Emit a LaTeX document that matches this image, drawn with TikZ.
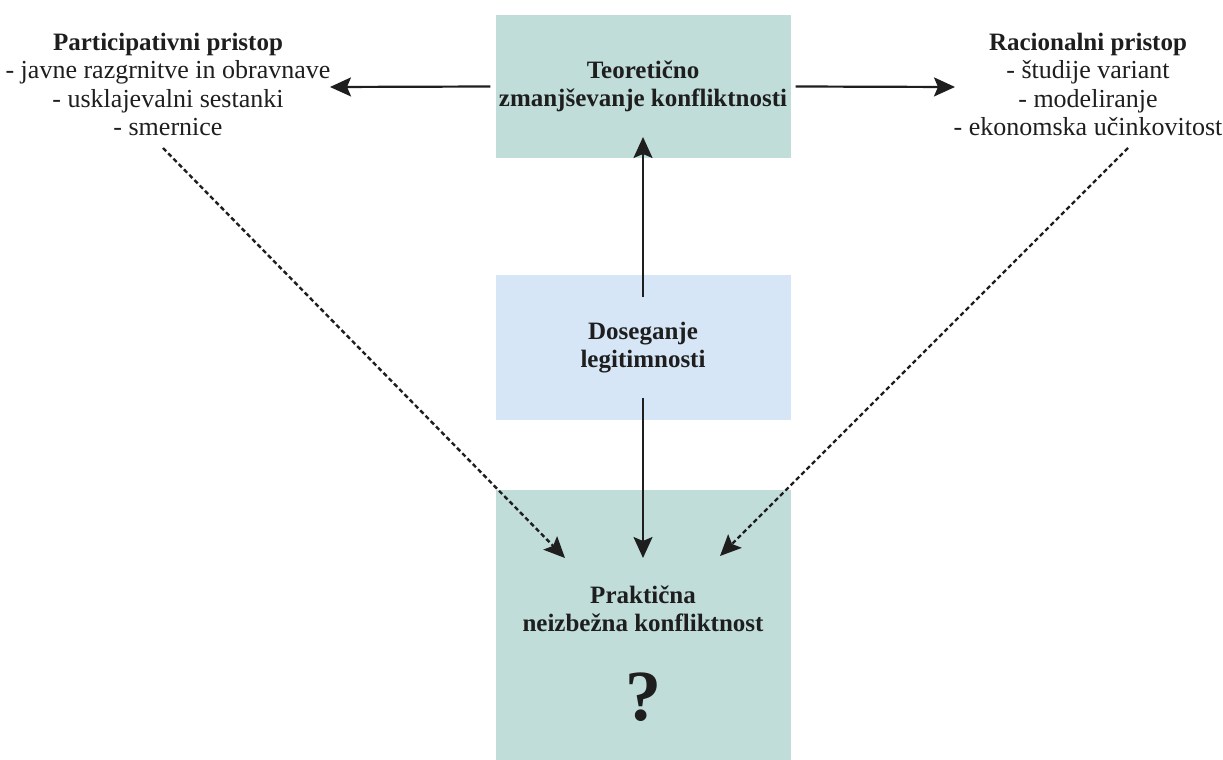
\documentclass[tikz,border=0pt]{standalone}
\usepackage{fontspec}
\setmainfont{Liberation Serif}
\usetikzlibrary{arrows.meta}
\definecolor{boxteal}{RGB}{192,221,218}
\definecolor{boxblue}{RGB}{214,230,246}
\definecolor{ink}{RGB}{30,30,30}
\newcommand\boldtxt{\fontsize{25}{28.5}\selectfont\bfseries}
\newcommand\plaintxt{\fontsize{26}{28.5}\selectfont}
\begin{document}
\begin{tikzpicture}[x=1pt,y=-1pt,
  box/.style={minimum width=295pt, inner sep=0pt, align=center, font=\boldtxt, text=ink},
  listtxt/.style={inner sep=0pt, align=center, font=\plaintxt, text=ink},
  arr/.style={draw=ink, line width=2.2pt, -{Stealth[length=21pt,width=19pt,inset=4pt]}},
  dotarr/.style={draw=ink, line width=2.4pt, dash pattern=on 4.5pt off 3pt,
                 -{Stealth[length=21pt,width=19pt,inset=4pt]}}]
\useasboundingbox (0,0) rectangle (1223,760);

% the three central boxes
\node[box, fill=boxteal, minimum height=143pt] (theory) at (643,86.5)
  {Teoretično\\zmanjševanje konfliktnosti};
\node[box, fill=boxblue, minimum height=145pt] (legit) at (643,347.5)
  {Doseganje\\legitimnosti};
\node[box, fill=boxteal, minimum height=270pt, anchor=north] (practice) at (643,490) {};
\node[box, anchor=center] (practxt) at (643,609) {Praktična\\neizbežna konfliktnost};
\node[inner sep=0pt, text=ink, font=\fontsize{72}{72}\selectfont\bfseries] (qmark) at (643,697) {?};

% the two approaches
\node[listtxt] (partic) at (168,84.5)
  {{\boldtxt Participativni pristop}\\- javne razgrnitve in obravnave\\- usklajevalni sestanki\\- smernice};
\node[listtxt] (ration) at (1088,84.5)
  {{\boldtxt Racionalni pristop}\\- študije variant\\- modeliranje\\- ekonomska učinkovitost};

% arrow end points
\coordinate (particIn) at (330,87);
\coordinate (rationIn) at (955,87);
\coordinate (particOut) at (163,148);
\coordinate (rationOut) at (1128,148);
\coordinate (practL) at (565,558);
\coordinate (practR) at (720,556);

% connectors
\draw[arr] ([xshift=-5pt]theory.west) -- (particIn);
\draw[arr] ([xshift=5pt]theory.east) -- (rationIn);
\draw[arr, shorten <=50.5pt, shorten >=50.5pt] (legit.center) -- (theory.center);
\draw[arr, shorten <=50.5pt] (legit.center) -- ([yshift=-68pt]practice.north);
\draw[dotarr] (particOut) -- (practL);
\draw[dotarr] (rationOut) -- (practR);
\end{tikzpicture}
\end{document}
